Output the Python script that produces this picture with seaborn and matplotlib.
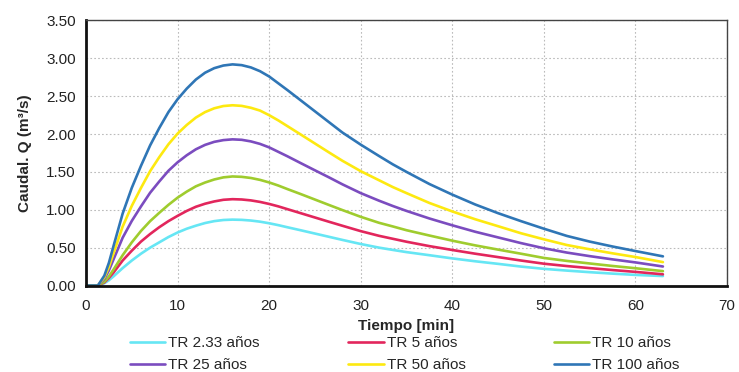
import matplotlib
matplotlib.use("Agg")
import matplotlib.pyplot as plt
import seaborn as sns
import pandas as pd

t = [0, 1.3, 2, 2.5, 3, 4, 5, 6, 7, 8, 9, 10, 11, 12, 13, 14, 15, 16, 17, 18, 19, 20, 21, 22, 23.5,
     25, 26.5, 28, 30, 32, 33.5, 35, 37.5, 40, 42.5, 45, 47.5, 50, 52.5, 55, 57.5, 60, 63]

labels = ["TR 2.33 años", "TR 5 años", "TR 10 años", "TR 25 años", "TR 50 años", "TR 100 años"]
colors = ["#66e6f4", "#e2265c", "#9fcc2e", "#7b4cbf", "#fde910", "#2f76b6"]

q_233 = [0, 0, 0.03, 0.07, 0.12, 0.23, 0.33, 0.42, 0.50, 0.57, 0.64, 0.70, 0.75, 0.79, 0.825, 0.85,
         0.865, 0.87, 0.867, 0.858, 0.843, 0.822, 0.797, 0.769, 0.728, 0.686, 0.644, 0.602, 0.548,
         0.500, 0.47, 0.441, 0.40, 0.358, 0.32, 0.286, 0.25, 0.220, 0.197, 0.176, 0.157, 0.140, 0.125]
q_5 = [0, 0, 0.04, 0.10, 0.17, 0.33, 0.46, 0.58, 0.68, 0.77, 0.85, 0.92, 0.985, 1.04, 1.08, 1.11,
       1.132, 1.14, 1.136, 1.124, 1.104, 1.077, 1.045, 1.008, 0.953, 0.898, 0.843, 0.789, 0.718,
       0.656, 0.617, 0.578, 0.52, 0.469, 0.42, 0.375, 0.33, 0.288, 0.257, 0.230, 0.204, 0.180, 0.148]
q_10 = [0, 0, 0.05, 0.12, 0.21, 0.40, 0.57, 0.72, 0.85, 0.96, 1.065, 1.16, 1.24, 1.31, 1.36, 1.40,
        1.428, 1.44, 1.435, 1.420, 1.395, 1.361, 1.32, 1.273, 1.205, 1.135, 1.065, 0.996, 0.907,
        0.828, 0.78, 0.730, 0.66, 0.592, 0.53, 0.474, 0.42, 0.364, 0.325, 0.291, 0.258, 0.228, 0.190]
q_25 = [0, 0, 0.087, 0.20, 0.344, 0.631, 0.853, 1.044, 1.225, 1.374, 1.515, 1.627, 1.72, 1.799, 1.857,
        1.897, 1.92, 1.93, 1.924, 1.903, 1.87, 1.824, 1.765, 1.706, 1.613, 1.521, 1.43, 1.336, 1.220,
        1.120, 1.050, 0.985, 0.885, 0.795, 0.71, 0.635, 0.56, 0.492, 0.435, 0.388, 0.345, 0.305, 0.251]
q_50 = [0, 0, 0.107, 0.245, 0.424, 0.778, 1.052, 1.288, 1.51, 1.695, 1.865, 2.006, 2.12, 2.218, 2.29,
        2.340, 2.37, 2.38, 2.372, 2.347, 2.31, 2.249, 2.18, 2.104, 1.99, 1.875, 1.76, 1.647, 1.51,
        1.39, 1.30, 1.22, 1.09, 0.978, 0.875, 0.783, 0.69, 0.61, 0.535, 0.478, 0.425, 0.376, 0.309]
q_100 = [0, 0, 0.13, 0.30, 0.52, 0.95, 1.29, 1.58, 1.85, 2.08, 2.29, 2.46, 2.60, 2.72, 2.81, 2.87,
         2.905, 2.92, 2.91, 2.88, 2.83, 2.76, 2.67, 2.58, 2.44, 2.30, 2.16, 2.02, 1.86, 1.71, 1.60,
         1.50, 1.34, 1.20, 1.07, 0.955, 0.85, 0.75, 0.655, 0.58, 0.515, 0.455, 0.385]

series = [q_233, q_5, q_10, q_25, q_50, q_100]

rows = []
for lab, vals in zip(labels, series):
    for ti, qi in zip(t, vals):
        rows.append({"t": ti, "Q": qi, "serie": lab})
df = pd.DataFrame(rows)

sns.set_style("white")
plt.rcParams["font.family"] = ["Liberation Sans", "DejaVu Sans"]

fig = plt.figure(figsize=(7.39, 3.72), dpi=100)
ax = fig.add_axes([0.1164, 0.2325, 0.8674, 0.7125])

sns.lineplot(data=df, x="t", y="Q", hue="serie", hue_order=labels,
             palette=colors, linewidth=1.9, ax=ax, sort=False, legend=True)

ax.set_xlim(0, 70)
ax.set_ylim(0, 3.5)
ax.set_xticks(range(0, 71, 10))
ax.set_yticks([i * 0.5 for i in range(8)])
ax.set_yticklabels([f"{i * 0.5:.2f}" for i in range(8)])
ax.tick_params(axis="both", labelsize=11, colors="#222222", length=4, direction="out")
ax.tick_params(axis="x", pad=6)
ax.grid(True, color="#bbbbbb", linestyle=(0, (1.5, 2)), linewidth=0.8)

for side in ["left", "bottom"]:
    ax.spines[side].set_color("#111111")
    ax.spines[side].set_linewidth(2.0)
for side in ["top", "right"]:
    ax.spines[side].set_color("#444444")
    ax.spines[side].set_linewidth(1.0)

ax.set_xlabel("Tiempo [min]", fontsize=11, fontweight="bold", labelpad=4)
ax.set_ylabel("Caudal. Q (m³/s)", fontsize=11, fontweight="bold", labelpad=10)

handles, labs = ax.get_legend_handles_labels()
ax.get_legend().remove()
hmap = dict(zip(labs, handles))
order = ["TR 2.33 años", "TR 25 años", "TR 5 años", "TR 50 años", "TR 10 años", "TR 100 años"]
fig.legend([hmap[o] for o in order], order, loc="center", bbox_to_anchor=(0.548, 0.048),
           ncol=3, frameon=False, fontsize=11, handlelength=2.3, handletextpad=0.2,
           columnspacing=5.8, labelspacing=0.55)

fig.savefig("out.png", dpi=100)
